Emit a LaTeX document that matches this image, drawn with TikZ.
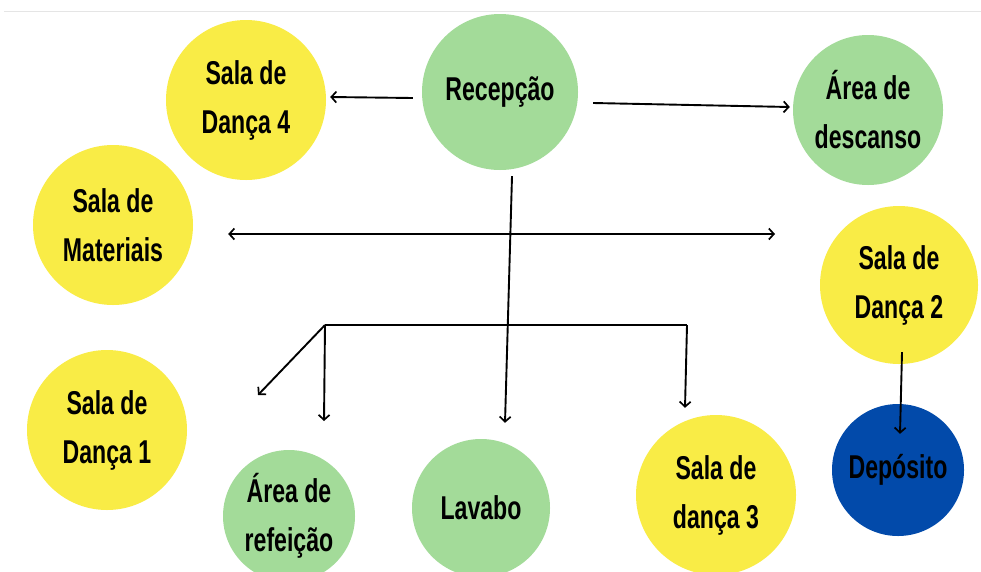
\documentclass[tikz,border=0pt]{standalone}
\usepackage{fontspec}
\setmainfont{Liberation Sans}[FakeStretch=0.7]
\usetikzlibrary{arrows.meta,calc}
\definecolor{cyel}{RGB}{249,236,70}
\definecolor{cgrn}{RGB}{163,219,153}
\definecolor{cblu}{RGB}{2,74,170}
\begin{document}
\begin{tikzpicture}[x=1pt,y=-1pt,
  room/.style={circle, inner sep=0pt, align=center, text=black,
    font=\fontsize{33}{49}\selectfont\bfseries},
  yel/.style={room, fill=cyel},
  grn/.style={room, fill=cgrn},
  blu/.style={room, fill=cblu},
  arr/.style={line width=1.9pt, -{Straight Barb[length=5pt,width=11pt,line width=1.7pt]}},
  darr/.style={line width=1.9pt, {Straight Barb[length=5pt,width=11pt,line width=1.7pt]}-{Straight Barb[length=5pt,width=11pt,line width=1.7pt]}},
  plain/.style={line width=1.9pt}]
\fill[white] (0,0) rectangle (981,571);
\useasboundingbox (0,0) rectangle (981,571);
\draw[black!10, line width=1pt] (4,11) -- (981,11);

\node[yel, minimum size=160pt] (d4) at (246,100) {Sala de\\Dança 4};
\node[grn, minimum size=156pt] (rec) at (500,92) {Recepção};
\node[grn, minimum size=150pt] (desc) at (868,110) {Área de\\descanso};
\node[yel, minimum size=160pt] (mat) at (113,225) {Sala de\\Materiais};
\node[yel, minimum size=158pt] (d2) at (899,285) {Sala de\\Dança 2};
\node[yel, minimum size=160pt] (d1) at (107,430) {Sala de\\Dança 1};
\node[grn, minimum size=132pt] (ref) at (289,516) {Área de\\refeição};
\node[grn, minimum size=138pt] (lav) at (481,508) {Lavabo};
\node[yel, minimum size=160pt] (d3) at (716,495) {Sala de\\dança 3};
\node[blu, minimum size=132pt] (dep) at (898,470) {Depósito};

% junction points of the branching connector
\coordinate (hL) at ($(mat.east)+(35,9)$);
\coordinate (hR) at (775,234);
\coordinate (J) at (325,325);
\coordinate (K) at (687,325);
\coordinate (diagEnd) at (258,395);
\coordinate (refEnd) at (324,421);
\coordinate (d3End) at ($(d3.north)+(-31,-7)$);

\draw[arr] ($(rec.west)+(-9,6)$) -- ($(d4.east)+(4,-3)$);
\draw[arr] ($(rec.east)+(15,11)$) -- ($(desc.west)+(-3,-3)$);
\draw[darr] (hL) -- (hR);
\draw[arr] ($(rec.south)+(12,6)$) -- ($(lav.north)+(24,-16)$);
\draw[plain] (J) -- (K);
\draw[arr] (K) -- (d3End);
\draw[arr] (J) -- (refEnd);
\draw[arr] (J) -- (diagEnd);
\draw[arr] ($(d2.south)+(3,-12)$) -- ($(dep.north)+(2,30)$);
\end{tikzpicture}
\end{document}
